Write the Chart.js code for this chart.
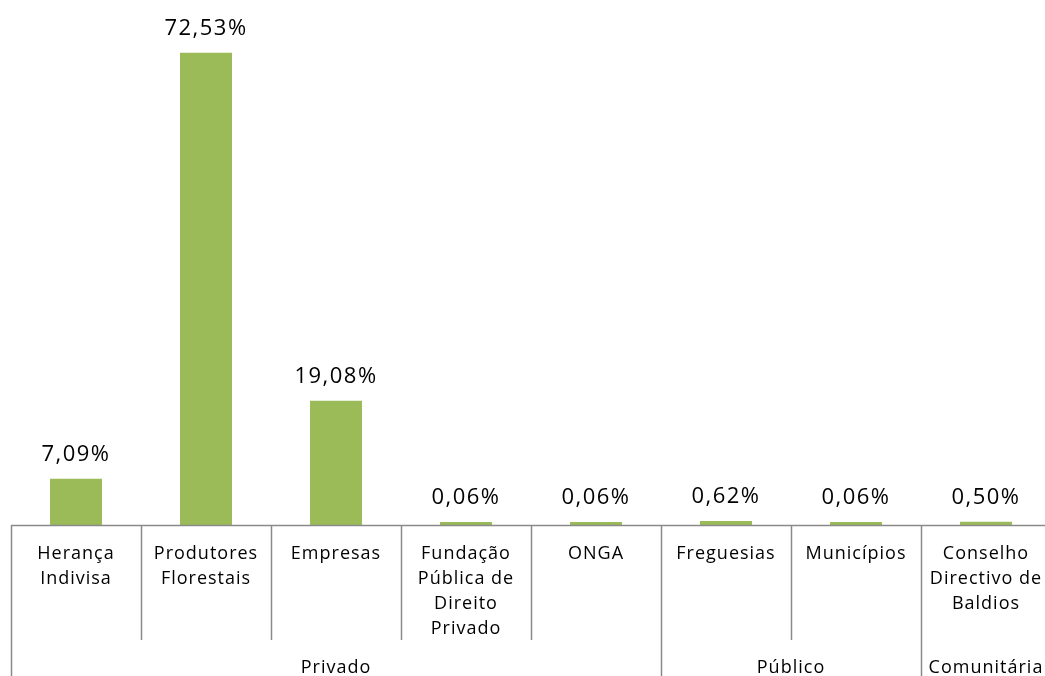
<!DOCTYPE html>
<html>
<head>
<meta charset="utf-8">
<script src="https://cdn.jsdelivr.net/npm/chart.js@4/dist/chart.umd.min.js"></script>
<style>
  html, body { margin: 0; padding: 0; background: #fff; overflow: hidden; }
  #wrap { width: 1051px; height: 676px; }
</style>
</head>
<body>
<div id="wrap"><canvas id="myChart"></canvas></div>
<script>
// categories (multi-line labels) and values in %
var categories = [
  ["Herança", "Indivisa"],
  ["Produtores", "Florestais"],
  ["Empresas"],
  ["Fundação", "Pública de", "Direito", "Privado"],
  ["ONGA"],
  ["Freguesias"],
  ["Municípios"],
  ["Conselho", "Directivo de", "Baldios"]
];
var values = [7.09, 72.53, 19.08, 0.06, 0.06, 0.62, 0.06, 0.50];

// outer groups and how many categories each spans
var groupNames = ["Privado", "Público", "Comunitária"];
var groupSizes = [5, 2, 1];

var FONT = "'Open Sans', sans-serif";
var LINE = '#8a8a8a';

var groupAxis = {
  id: 'groupAxis',
  beforeDraw: function(chart) {
    // wider letter spacing like the original, kept for tick labels too
    chart.ctx.letterSpacing = '1px';
  },
  afterDraw: function(chart) {
    var ctx = chart.ctx;
    var area = chart.chartArea;
    var w = (area.right - area.left) / categories.length;
    var bottom = chart.height;

    // group boundaries
    var bounds = [0];
    var acc = 0;
    groupSizes.forEach(function(n) { acc += n; bounds.push(acc); });

    ctx.save();
    ctx.strokeStyle = LINE;
    ctx.lineWidth = 1.5;
    for (var i = 0; i <= categories.length; i++) {
      var px = Math.round(area.left + i * w) + 0.5;
      var isGroup = bounds.indexOf(i) !== -1;
      ctx.beginPath();
      ctx.moveTo(px, area.bottom);
      ctx.lineTo(px, isGroup ? bottom : 640);
      ctx.stroke();
    }
    // axis line
    ctx.beginPath();
    ctx.moveTo(area.left, area.bottom + 0.5);
    ctx.lineTo(area.right, area.bottom + 0.5);
    ctx.stroke();

    // group labels
    ctx.fillStyle = '#000';
    ctx.letterSpacing = '1px';
    ctx.font = '18px ' + FONT;
    ctx.textAlign = 'center';
    ctx.textBaseline = 'middle';
    for (var g = 0; g < groupNames.length; g++) {
      var l = area.left + bounds[g] * w;
      var r = area.left + bounds[g + 1] * w;
      ctx.fillText(groupNames[g], (l + r) / 2, 668);
    }

    // value labels
    ctx.font = '22px ' + FONT;
    ctx.letterSpacing = '1.5px';
    var meta = chart.getDatasetMeta(0);
    meta.data.forEach(function(bar, k) {
      var txt = values[k].toFixed(2).replace('.', ',') + '%';
      ctx.fillText(txt, bar.x, bar.y - 24);
    });
    ctx.restore();
  }
};

var ctx = document.getElementById('myChart').getContext('2d');

var chart = new Chart(ctx, {
  type: 'bar',
  data: {
    labels: categories,
    datasets: [{
      data: values,
      backgroundColor: '#9BBB59',
      borderWidth: 0,
      minBarLength: 3,
      categoryPercentage: 1,
      barPercentage: 0.4
    }]
  },
  options: {
    responsive: true,
    maintainAspectRatio: false,
    animation: false,
    layout: { padding: { top: 4, left: 11, right: 0, bottom: 0 } },
    plugins: {
      legend: { display: false },
      tooltip: { enabled: false }
    },
    scales: {
      y: { display: false, min: 0, max: 80 },
      x: {
        grid: { display: false },
        border: { display: false },
        ticks: {
          color: '#000',
          font: { family: FONT, size: 18, lineHeight: 1.39 },
          padding: 8,
          maxRotation: 0,
          autoSkip: false
        },
        afterFit: function(scale) { scale.height = 151; }
      }
    }
  },
  plugins: [groupAxis]
});
</script>
</body>
</html>
